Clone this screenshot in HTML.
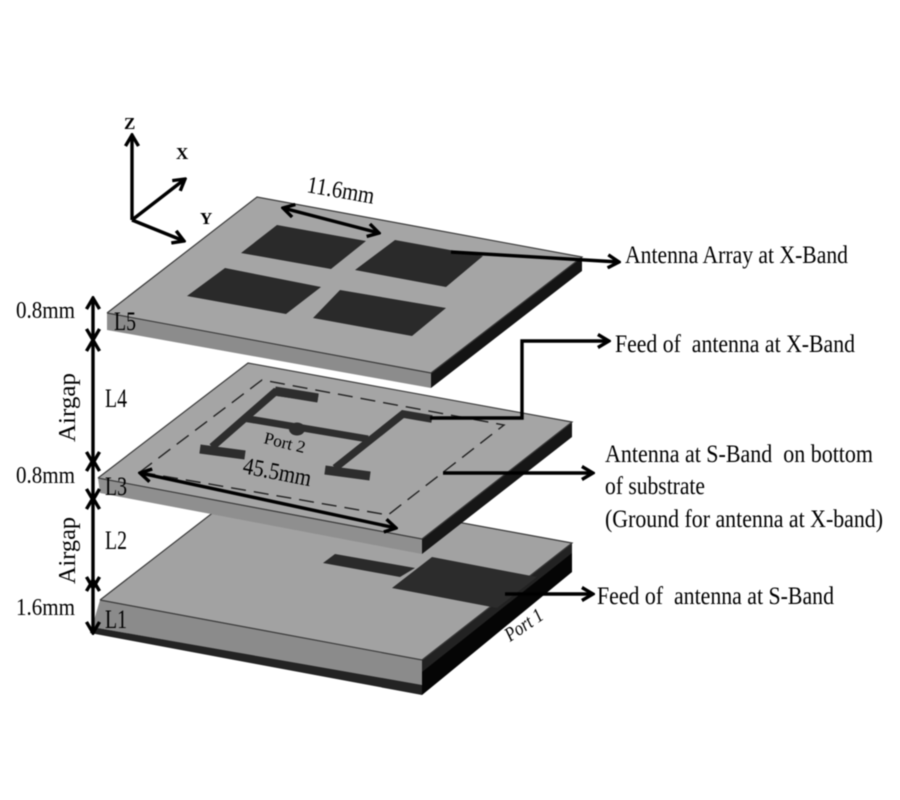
<!DOCTYPE html>
<html><head><meta charset="utf-8"><style>
html,body{margin:0;padding:0;background:#fff}
svg{display:block;filter:blur(0.4px)}
text{font-family:"Liberation Serif",serif;fill:#000;white-space:pre}
</style></head><body>
<svg width="900" height="800" viewBox="0 0 900 800" xmlns="http://www.w3.org/2000/svg">
<defs>
<marker id="a" viewBox="0 0 12 12" refX="10.5" refY="6" markerWidth="4.6" markerHeight="4.6" orient="auto-start-reverse" markerUnits="strokeWidth"><path d="M2 1 L10.5 6 L2 11" fill="none" stroke="#000" stroke-width="2.6"/></marker>
</defs>
<rect width="900" height="800" fill="#fff"/>

<!-- bottom board -->
<polygon points="250,484 572,543 572,572 422,695 422,660 100,600" fill="#a2a2a2"/>
<polygon points="100,600 422,660 422,686 92,627" fill="#8b8b8b"/>
<polygon points="92,627 422,685 422,695 90,633" fill="#232323"/>
<polygon points="422,660 572,543 572,572 422,695" fill="#050505"/>
<polygon points="422,660 572,543 572,553 422,672" fill="#222"/>
<polyline points="100,600 250,484 572,543 422,660 100,600" fill="none" stroke="#3a3a3a" stroke-width="1.2"/>
<polygon points="335,554 415,568 400,577 323,563" fill="#2a2a2a"/>
<polygon points="432,557 537,577 497,608 392,588" fill="#2c2c2c"/>

<!-- middle board -->
<polygon points="248,363 572,422 422,539 98,478" fill="#a5a5a5"/>
<polygon points="98,478 422,539 422,554 100,493" fill="#8f8f8f"/>
<polygon points="422,539 572,422 572,437 422,554" fill="#161616"/>
<polyline points="98,478 248,363 572,422 422,539 98,478" fill="none" stroke="#3a3a3a" stroke-width="1.2"/>
<polygon points="140,472 262,380 504,425 388,515" fill="none" stroke="#222" stroke-width="1.4" stroke-dasharray="15 8"/>
<g fill="none" stroke="#2d2d2d" stroke-linecap="butt">
<polyline points="318,398 275,392 212,447" stroke-width="7.5"/>
<line x1="275" y1="391" x2="318" y2="398" stroke-width="9"/>
<line x1="200" y1="449" x2="245" y2="455" stroke-width="9"/>
<line x1="243" y1="418" x2="368" y2="439" stroke-width="7"/>
<polyline points="432,419 403,414 335,468" stroke-width="7.5"/>
<line x1="325" y1="470" x2="370" y2="476" stroke-width="9"/>
</g>
<ellipse cx="297" cy="429" rx="8" ry="6.5" fill="#2d2d2d"/>

<!-- top board -->
<polygon points="257,197 582,257 431,373 107,313" fill="#a5a5a5"/>
<polygon points="107,313 431,373 431,388 107,330" fill="#8c8c8c"/>
<polygon points="431,373 582,257 582,271 431,388" fill="#141414"/>
<polyline points="107,313 257,197 582,257 431,373 107,313" fill="none" stroke="#3a3a3a" stroke-width="1.2"/>
<g fill="#2a2a2a">
<polygon points="277,225 366,241 331,269 241,253"/>
<polygon points="395,240 483,256 446,287 355,270"/>
<polygon points="225,268 321,287 286,314 187,296"/>
<polygon points="340,290 446,308 412,336 313,318"/>
</g>

<!-- arrows -->
<g fill="none" stroke="#000" stroke-width="3.4">
<line x1="132" y1="220" x2="132" y2="135" marker-end="url(#a)"/>
<line x1="132" y1="220" x2="185" y2="179" marker-end="url(#a)"/>
<line x1="132" y1="220" x2="184" y2="241" marker-end="url(#a)"/>
<line x1="283" y1="208" x2="379" y2="233" marker-start="url(#a)" marker-end="url(#a)"/>
<line x1="93" y1="298" x2="93" y2="340" marker-start="url(#a)" marker-end="url(#a)"/>
<line x1="93" y1="340" x2="93" y2="463" marker-start="url(#a)" marker-end="url(#a)"/>
<line x1="93" y1="460" x2="93" y2="500" marker-start="url(#a)" marker-end="url(#a)"/>
<line x1="93" y1="498" x2="93" y2="588" marker-start="url(#a)" marker-end="url(#a)"/>
<line x1="93" y1="580" x2="93" y2="633" marker-start="url(#a)" marker-end="url(#a)"/>
<line x1="140" y1="473" x2="396" y2="528" marker-start="url(#a)" marker-end="url(#a)"/>
<line x1="451" y1="252" x2="619" y2="262" marker-end="url(#a)"/>
<polyline points="430,418 522,418 522,341 609,341" marker-end="url(#a)"/>
<line x1="443" y1="473" x2="593" y2="473" marker-end="url(#a)"/>
<line x1="505" y1="594" x2="593" y2="594" marker-end="url(#a)"/>
</g>

<!-- axis labels -->
<text x="124" y="129" font-size="17" font-weight="bold">Z</text>
<text x="176" y="159" font-size="17" font-weight="bold">X</text>
<text x="200" y="224" font-size="17" font-weight="bold">Y</text>

<!-- dimensions -->
<text transform="translate(306,192) rotate(10)" font-size="24" textLength="68" lengthAdjust="spacingAndGlyphs">11.6mm</text>
<text transform="translate(242,473) rotate(11)" font-size="24" textLength="69" lengthAdjust="spacingAndGlyphs">45.5mm</text>
<text transform="translate(263,443) rotate(14)" font-size="17" textLength="42" lengthAdjust="spacingAndGlyphs">Port 2</text>
<text transform="translate(510,642) rotate(-34)" font-size="20" font-style="italic" textLength="42" lengthAdjust="spacingAndGlyphs">Port 1</text>

<g font-size="24">
<text x="16" y="318" textLength="59" lengthAdjust="spacingAndGlyphs">0.8mm</text>
<text x="16" y="483" textLength="59" lengthAdjust="spacingAndGlyphs">0.8mm</text>
<text x="16" y="615" textLength="59" lengthAdjust="spacingAndGlyphs">1.6mm</text>
<text transform="translate(75,442) rotate(-90)" textLength="69" lengthAdjust="spacingAndGlyphs">Airgap</text>
<text transform="translate(75,584) rotate(-90)" textLength="67" lengthAdjust="spacingAndGlyphs">Airgap</text>
</g>
<g font-size="26">
<text x="114" y="330" textLength="22" lengthAdjust="spacingAndGlyphs">L5</text>
<text x="105" y="407" textLength="22" lengthAdjust="spacingAndGlyphs">L4</text>
<text x="105" y="495" textLength="22" lengthAdjust="spacingAndGlyphs">L3</text>
<text x="105" y="549" textLength="22" lengthAdjust="spacingAndGlyphs">L2</text>
<text x="105" y="628" textLength="22" lengthAdjust="spacingAndGlyphs">L1</text>
</g>

<!-- callouts -->
<g font-size="25">
<text x="625" y="263" textLength="223" lengthAdjust="spacingAndGlyphs">Antenna Array at X-Band</text>
<text x="615" y="352" textLength="240" lengthAdjust="spacingAndGlyphs">Feed of  antenna at X-Band</text>
<text x="605" y="462" textLength="268" lengthAdjust="spacingAndGlyphs">Antenna at S-Band  on bottom</text>
<text x="605" y="494" textLength="100" lengthAdjust="spacingAndGlyphs">of substrate</text>
<text x="605" y="527" textLength="278" lengthAdjust="spacingAndGlyphs">(Ground for antenna at X-band)</text>
<text x="597" y="604" textLength="237" lengthAdjust="spacingAndGlyphs">Feed of  antenna at S-Band</text>
</g>
</svg>
</body></html>
